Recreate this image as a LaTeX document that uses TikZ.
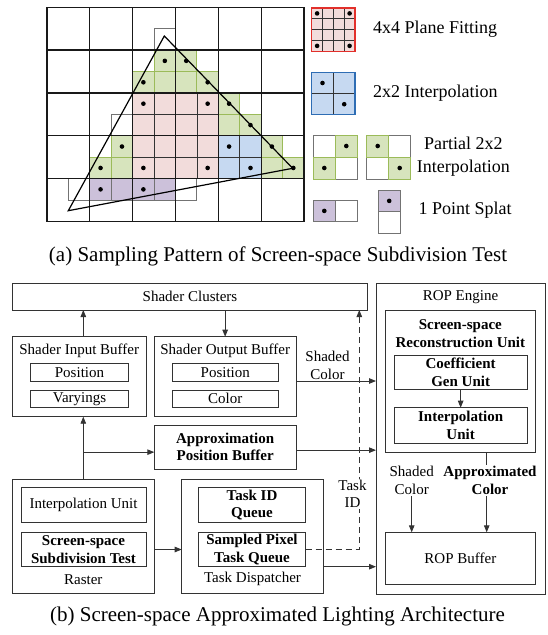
\documentclass[tikz,border=0pt]{standalone}
\usepackage{fontspec}
\setmainfont{Liberation Serif}
\usetikzlibrary{arrows.meta,calc}

\definecolor{pinkfill}{HTML}{F2DCDB}
\definecolor{greenfill}{HTML}{D7E4BD}
\definecolor{greenedge}{HTML}{9BBB59}
\definecolor{bluefill}{HTML}{C6D9F1}
\definecolor{blueedge}{HTML}{2E6DB4}
\definecolor{purplefill}{HTML}{CCC1DA}
\definecolor{rededge}{HTML}{E2302B}

\newcommand\bodyfont{\fontsize{15}{17.3}\selectfont}
\newcommand\boldbody{\bfseries\fontsize{15}{17.3}\selectfont}
\newcommand\legfont{\fontsize{18}{22.7}\selectfont}
\newcommand\capfont{\fontsize{21}{24}\selectfont}

% one small raster cell (21.42 units) at column #2, row #3 of the sample grid
\newcommand\smcell[3]{\path[#1] ({47+21.42*#2},{7.3+21.42*#3}) rectangle ++(21.42,21.42);}
% a box node given by its corners: [options]{name}{x1}{y1}{x2}{y2}{text}
\newcommand\mkbox[7][]{%
  \node[box,minimum width={(#5-#3)*1pt},minimum height={(#6-#4)*1pt},#1] (#2)
    at ({(#3+#5)/2},{(#4+#6)/2}) {#7};}

\tikzset{
  box/.style={draw=black!80, line width=0.9pt, inner sep=0pt, outer sep=0pt,
    font=\bodyfont, align=center},
  lbl/.style={inner sep=1.5pt, font=\bodyfont, align=center},
  arr/.style={-{Triangle[length=7pt,width=5.5pt]}, line width=0.9pt, draw=black!80},
  bigline/.style={line width=1.3pt, draw=black!90},
  smline/.style={line width=0.8pt, draw=black!80},
  greencell/.style={fill=greenfill, draw=greenedge, line width=1pt},
  whitecell/.style={draw=black!55, line width=0.9pt},
  purplecell/.style={fill=purplefill, draw=black!55, line width=0.8pt},
  sdot/.style={fill=black},
  legtext/.style={inner sep=0pt, font=\legfont, align=center},
  captext/.style={inner sep=0pt, font=\capfont}
}

\begin{document}
\begin{tikzpicture}[x=1pt,y=-1pt]
\useasboundingbox (0,0) rectangle (548,635);

% ---------------- sample grid ----------------
% 4x4 plane-fitting block
\path[fill=pinkfill] ({47+21.42*4},{7.3+21.42*4}) rectangle ({47+21.42*8},{7.3+21.42*8});
\foreach \c in {5,7}
  \draw[smline] ({47+21.42*\c},{7.3+21.42*4}) -- ({47+21.42*\c},{7.3+21.42*8});
\foreach \r in {5,7}
  \draw[smline] ({47+21.42*4},{7.3+21.42*\r}) -- ({47+21.42*8},{7.3+21.42*\r});
% 2x2 interpolation block
\path[fill=bluefill] ({47+21.42*8},{7.3+21.42*6}) rectangle ({47+21.42*10},{7.3+21.42*8});
\draw[smline] ({47+21.42*9},{7.3+21.42*6}) -- ({47+21.42*9},{7.3+21.42*8});
\draw[smline] ({47+21.42*8},{7.3+21.42*7}) -- ({47+21.42*10},{7.3+21.42*7});
% point splats
\foreach \c in {2,...,5} {\smcell{purplecell}{\c}{8}}
% partial 2x2 cells
\foreach \c/\r in {5/2,6/2,4/3,5/3,6/3,7/3,8/4,8/5,9/5,3/6,10/6,2/7,3/7,10/7,11/7}
  {\smcell{greencell}{\c}{\r}}
% empty cells of partial blocks
\foreach \c/\r in {5/1,3/5,1/8,6/8} {\smcell{whitecell}{\c}{\r}}
% coarse grid
\foreach \i in {0,...,6}
  \draw[bigline] ({47+42.84*\i},7.3) -- ({47+42.84*\i},{7.3+42.84*5});
\foreach \j in {0,...,5}
  \draw[bigline] (47,{7.3+42.84*\j}) -- ({47+42.84*6},{7.3+42.84*\j});
% triangle
\draw[line width=1.2pt] (164.3,36) -- (68.3,210.7) -- (292.7,168.3) -- cycle;
% sample points
\foreach \c/\r in {5/2,6/2,4/3,7/3,4/4,7/4,8/4,9/5,3/6,8/6,10/6,2/7,4/7,7/7,9/7,11/7,2/8,4/8}
  \fill[sdot] ({47+21.42*(\c+0.5)},{7.3+21.42*(\r+0.5)}) circle (2.3);

% ---------------- legend ----------------
% 4x4 plane fitting
\path[fill=pinkfill] (311.7,8) rectangle (355,51.3);
\foreach \k in {1,2,3} {
  \draw[smline] ({311.7+10.825*\k},8) -- ({311.7+10.825*\k},51.3);
  \draw[smline] (311.7,{8+10.825*\k}) -- (355,{8+10.825*\k});
}
\draw[draw=rededge, line width=1.1pt] (311.7,8) rectangle (355,51.3);
\foreach \a/\b in {0/0,3/0,0/3,3/3}
  \fill[sdot] ({311.7+10.825*(\a+0.5)},{8+10.825*(\b+0.5)}) circle (2.3);
\node[legtext, anchor=west] (lgA) at (373,29.3) {4x4 Plane Fitting};
% 2x2 interpolation
\path[fill=bluefill] (311.7,72.7) rectangle (355,114.5);
\draw[smline] (333.35,72.7) -- (333.35,114.5);
\draw[smline] (311.7,93.6) -- (355,93.6);
\draw[draw=blueedge, line width=1.1pt] (311.7,72.7) rectangle (355,114.5);
\fill[sdot] (322.5,83) circle (2.3);
\fill[sdot] (344.2,104.2) circle (2.3);
\node[legtext, anchor=west] (lgB) at (373,93.3) {2x2 Interpolation};
% partial 2x2 interpolation
\draw[whitecell] (313.3,135) rectangle ++(22,22);
\draw[whitecell] (335.3,157) rectangle ++(22,22);
\draw[greencell] (335.3,135) rectangle ++(22,22);
\draw[greencell] (313.3,157) rectangle ++(22,22);
\fill[sdot] (346.3,146) circle (2.3);
\fill[sdot] (324.3,168) circle (2.3);
\draw[whitecell] (388.7,135) rectangle ++(22,22);
\draw[whitecell] (366.7,157) rectangle ++(22,22);
\draw[greencell] (366.7,135) rectangle ++(22,22);
\draw[greencell] (388.7,157) rectangle ++(22,22);
\fill[sdot] (377.7,146) circle (2.3);
\fill[sdot] (399.7,168) circle (2.3);
\node[legtext] (lgC) at (463.3,157) {Partial 2x2\\Interpolation};
% one point splat
\draw[whitecell] (335.3,200) rectangle ++(22,21.7);
\draw[purplecell] (313.3,200) rectangle ++(22,21.7);
\fill[sdot] (324.3,210.9) circle (2.3);
\draw[whitecell] (378.3,211.7) rectangle ++(21.7,21.7);
\draw[purplecell] (378.3,190) rectangle ++(21.7,21.7);
\fill[sdot] (389.2,200.9) circle (2.3);
\node[legtext, anchor=west] (lgD) at (418.3,210) {1 Point Splat};

\node[captext] (capa) at (278,256) {(a) Sampling Pattern of Screen-space Subdivision Test};

% ---------------- architecture ----------------
\mkbox{sc}{12.3}{283.3}{367.7}{310}{Shader Clusters}
\mkbox{rop}{376}{283.3}{545}{594}{}
\node[lbl] (ropt) at (460.5,297) {ROP Engine};
\mkbox{recon}{385}{310}{535.7}{452.3}{}
\node[lbl, font=\boldbody] (recont) at (460.3,333.5) {Screen-space\\Reconstruction Unit};
\mkbox[font=\boldbody]{cgu}{394}{355}{527.3}{389.3}{Coefficient\\Gen Unit}
\mkbox[font=\boldbody]{intu}{394}{407.7}{527.3}{443.3}{Interpolation\\Unit}
\mkbox{ropbuf}{385}{532.3}{535.7}{584}{ROP Buffer}

\mkbox{sib}{12.3}{336.7}{146}{416.7}{}
\node[lbl] (sibt) at (79.2,351) {Shader Input Buffer};
\mkbox{sibpos}{30.7}{363.3}{128.3}{381}{Position}
\mkbox{sibvar}{30.7}{390}{128.3}{407.3}{Varyings}

\mkbox{sob}{154.3}{336.7}{296}{416.7}{}
\node[lbl] (sobt) at (225.2,351) {Shader Output Buffer};
\mkbox{sobpos}{172.3}{363.3}{278.3}{381}{Position}
\mkbox{sobcol}{172.3}{390}{278.3}{407.3}{Color}

\mkbox[font=\boldbody]{apb}{154.3}{425}{296}{469.3}{Approximation\\Position Buffer}

\mkbox{raster}{12.3}{479}{154.3}{593}{}
\mkbox{iu}{21}{487.3}{146}{522.7}{Interpolation Unit}
\mkbox[font=\boldbody]{sst}{21}{532.3}{146}{566.7}{Screen-space\\Subdivision Test}
\node[lbl] (rastert) at (83.3,579.3) {Raster};

\mkbox{td}{181.7}{479}{323.3}{593}{}
\mkbox[font=\boldbody]{tiq}{198.3}{487.3}{305.7}{522.7}{Task ID\\Queue}
\mkbox[font=\boldbody]{sptq}{198.3}{532.3}{305.7}{566.7}{Sampled Pixel\\Task Queue}
\node[lbl] (tdt) at (252.5,579.3) {Task Dispatcher};

% connectors
\draw[arr] (raster.north) -- (raster.north |- sib.south);
\draw[arr] (raster.north |- sib.north) -- (raster.north |- sc.south);
\draw[arr] ([yshift=-5pt]raster.north |- apb.west) -- ([yshift=-5pt]apb.west);
\draw[arr] (sc.south -| sob.north) -- (sob.north);
\draw[arr] (sob.east |- sobpos.south) -- (rop.west |- sobpos.south);
\node[lbl] (shc1) at (327.5,365.3) {Shaded\\Color};
\draw[arr] ([yshift=-3pt]apb.east) -- ([yshift=-3pt]apb.east -| rop.west);
\draw[arr] (raster.east |- sst.east) -- (td.west |- sst.east);
\draw[arr] (td.east |- sptq.south) -- (rop.west |- sptq.south);
\coordinate (taskx) at (359.3,0);
\draw[arr, dashed, dash pattern=on 6pt off 4pt] (sptq.east) -| (taskx |- sc.south);
\node[lbl, fill=white] (tid) at (352.5,494) {Task\\ID};
\draw[arr] (cgu.south) -- (intu.north);
\coordinate (acx) at (486.7,0);
\draw[arr] (acx |- recon.south) -- (acx |- ropbuf.north);
\node[lbl, font=\boldbody, fill=white] (apc) at (490,480.5) {Approximated\\Color};
\node[lbl] (shc2) at (411.7,480.5) {Shaded\\Color};
\draw[arr] (shc2.south) -- (shc2.south |- ropbuf.north);

\node[captext] (capb) at (277.5,616) {(b) Screen-space Approximated Lighting Architecture};
\end{tikzpicture}
\end{document}
